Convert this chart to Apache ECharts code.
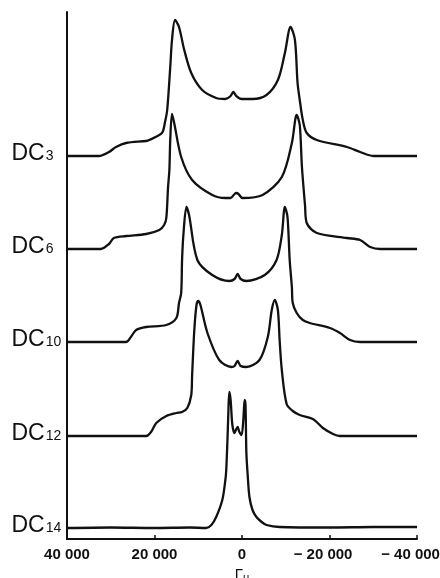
<!DOCTYPE html>
<html>
<head>
<meta charset="utf-8">
<script src="https://cdn.jsdelivr.net/npm/echarts@6/dist/echarts.min.js"></script>
<style>
html,body{margin:0;padding:0;background:#fff;}
#chart{width:440px;height:578px;}
</style>
</head>
<body>
<div id="chart"></div>
<script>
// Field axis ticks (reversed axis, 40 000 on the left)
const fieldTicks = [40000, 20000, 0, -20000, -40000];

// Sample names (subscripts) and vertical offsets of each baseline
const sampleNames = ['3', '6', '10', '12', '14'];
const baselineOffsets = [383, 290, 197, 103, 11];

// Spectra: [field, intensity above baseline]
const dc3 = [[40000,0],[32700,0],[30400,4],[28800,9],[26500,13],[21900,15],[21200,16],[18300,23],[17600,34],[17100,46],[16400,89],[16000,116],[15300,136],[14400,129],[13200,106],[11600,83],[9100,66],[5900,58],[3800,57],[2600,60],[2000,64],[1300,60],[100,57],[-2400,57],[-5600,61],[-8200,76],[-9800,103],[-11100,129],[-12100,116],[-12700,73],[-13200,56],[-13900,36],[-14800,23],[-17100,16],[-24000,9],[-27000,4],[-30000,0],[-40000,0]];

const dc6 = [[40000,0],[32300,0],[30400,5],[29300,11],[26500,13],[21900,15],[18900,19],[17800,24],[17300,31],[16900,62],[16600,79],[16400,109],[16000,135],[15500,126],[13900,92],[11400,69],[6800,54],[3800,51],[2600,51],[1700,55],[1300,56],[800,55],[-100,51],[-4700,54],[-9100,72],[-11400,106],[-12500,134],[-13200,124],[-13700,82],[-14400,44],[-14800,26],[-17100,16],[-24000,11],[-27000,9],[-29300,2],[-31600,0],[-40000,0]];

const dc10 = [[40000,0],[26500,0],[25400,5],[24200,12],[21900,15],[17300,17],[15000,24],[14400,39],[13900,49],[13700,82],[13400,107],[12700,135],[12100,127],[10200,82],[6800,67],[2900,61],[1700,63],[1000,68],[300,63],[-1000,61],[-5200,67],[-7900,82],[-9100,107],[-9800,135],[-10400,125],[-10900,82],[-11400,55],[-11600,39],[-12500,29],[-13900,22],[-15500,19],[-20100,14],[-22400,9],[-24700,2],[-27000,0],[-40000,0]];

const dc12 = [[40000,0],[21900,0],[20800,4],[19600,13],[17300,20],[15000,23],[13700,24],[12500,28],[11600,41],[11400,61],[10900,106],[10400,131],[10000,135],[9500,131],[7900,103],[5200,76],[2400,69],[1700,70],[1000,75],[300,70],[-1000,69],[-4000,76],[-5900,99],[-6800,126],[-7500,136],[-8200,126],[-8600,96],[-9100,66],[-10200,32],[-11600,25],[-13200,21],[-16200,17],[-18500,8],[-20800,2],[-22400,0],[-40000,0]];

const dc14 = [[40000,0],[30000,0.5],[20000,0],[12000,0.5],[8200,0],[7000,3],[5900,11],[4500,28],[3800,48],[3600,58],[3300,91],[3100,118],[2900,136],[2600,128],[2200,103],[1700,95],[1300,99],[1000,101],[600,96],[100,93],[-300,108],[-600,128],[-800,123],[-1000,75],[-1300,53],[-1700,31],[-2400,18],[-3300,11],[-4500,6],[-5600,3],[-8600,1],[-20000,0.5],[-30000,1],[-40000,1]];

const spectra = [dc3, dc6, dc10, dc12, dc14];

function fmtTick(v) {
  const a = Math.abs(v);
  const s = a >= 1000 ? Math.floor(a / 1000) + ' ' + String(a % 1000).padStart(3, '0') : String(a);
  return v < 0 ? '{t|\u2212 ' + s + '}{z|\u2212.}' : '{t|' + s + '}';
}

const chart = echarts.init(document.getElementById('chart'), null, {renderer: 'canvas'});

const FONT = 'Liberation Sans, Arial, sans-serif';

const series = spectra.map((arr, i) => ({
  type: 'line',
  data: arr.map(p => [p[0], p[1] + baselineOffsets[i]]),
  showSymbol: false,
  smooth: 0.3,
  lineStyle: {color: '#111', width: 2.3},
  silent: true,
  animation: false,
  markPoint: {
    symbol: 'circle',
    symbolSize: 1,
    itemStyle: {color: 'rgba(0,0,0,0)'},
    label: {
      show: true,
      position: [-55, -2],
      align: 'left',
      verticalAlign: 'middle',
      formatter: '{a|DC}{b|' + sampleNames[i] + '}',
      rich: {
        a: {fontFamily: FONT, fontSize: 23, color: '#111', verticalAlign: 'bottom', lineHeight: 23},
        b: {fontFamily: FONT, fontSize: 14, color: '#111', verticalAlign: 'bottom', lineHeight: 14, padding: [0, 0, 2, 1]}
      }
    },
    data: [{coord: [40000, baselineOffsets[i]]}]
  }
}));

chart.setOption({
  animation: false,
  backgroundColor: '#fff',
  grid: {left: 67, right: 23, top: 12, bottom: 39, outerBoundsMode: 'none', containLabel: false},
  xAxis: {
    type: 'value',
    inverse: true,
    min: -40000,
    max: 40000,
    interval: 20000,
    axisLine: {onZero: false, lineStyle: {color: '#111', width: 2}},
    axisTick: {show: true, inside: true, length: 4, lineStyle: {color: '#111', width: 1.5}},
    splitLine: {show: false},
    axisLabel: {
      margin: 8,
      color: '#111',
      fontFamily: FONT,
      fontSize: 15,
      fontWeight: 'bold',
      formatter: fmtTick,
      rich: {
        t: {fontFamily: FONT, fontSize: 15, fontWeight: 'bold', color: '#111'},
        z: {fontFamily: FONT, fontSize: 15, fontWeight: 'bold', color: 'rgba(255,255,255,0)'}
      }
    },
    name: '{g|\u0393}{m|\u03bc}',
    nameLocation: 'middle',
    nameGap: 25,
    nameTextStyle: {
      rich: {
        g: {fontFamily: FONT, fontSize: 15, color: '#111', verticalAlign: 'bottom', lineHeight: 15},
        m: {fontFamily: FONT, fontSize: 11, color: '#111', verticalAlign: 'bottom', lineHeight: 11, padding: [0, 0, -2, 0]}
      }
    }
  },
  yAxis: {
    type: 'value',
    min: 0,
    max: 527,
    axisLine: {show: true, onZero: false, lineStyle: {color: '#111', width: 2}},
    axisTick: {show: false},
    axisLabel: {show: false},
    splitLine: {show: false}
  },
  series: series
});
</script>
</body>
</html>
